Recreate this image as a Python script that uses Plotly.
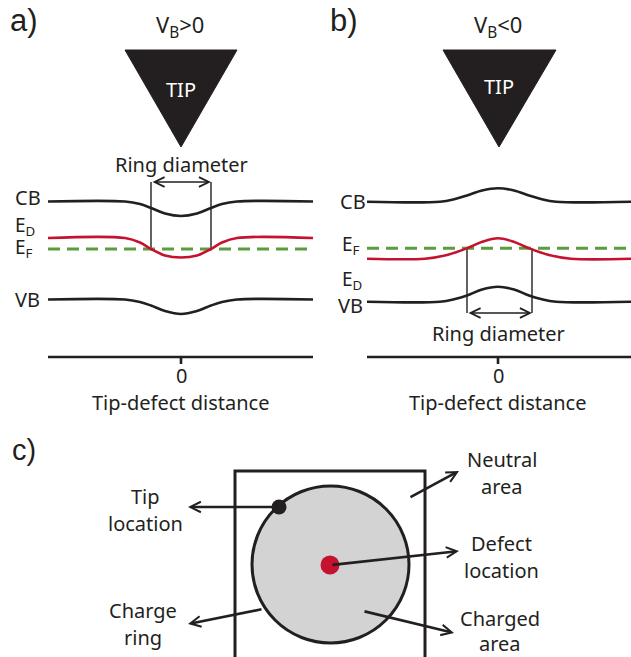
import plotly.graph_objects as go

# ---------------- data (picture pixel coordinates) ----------------
# Panel a  (V_B > 0): band edges dip under the tip
a_x   = [48, 125, 140, 151, 165, 181, 197, 211, 222, 237, 313]
a_cb  = [201.5, 201.5, 204, 208, 213.5, 216, 213.5, 208, 204, 201.5, 201.5]
a_ed  = [238, 238, 242.5, 249, 255.5, 257.5, 255.5, 249, 242.5, 238, 238]
a_vb  = [299.5, 299.5, 302, 305.5, 311, 314, 311, 305.5, 302, 299.5, 299.5]
a_ef  = 249
a_ring = [151, 211]

# Panel b  (V_B < 0): band edges bend up under the tip
b_x   = [367, 440, 455, 467, 482, 498, 514, 529, 541, 556, 631]
b_cb  = [201.7, 201.7, 199, 195.5, 190.5, 188.3, 190.5, 195.5, 199, 201.7, 201.7]
b_xr  = [367, 425, 447, 467, 483, 498, 513, 529, 549, 571, 631]
b_ed  = [258.7, 258.7, 255, 248.3, 241.5, 238.3, 241.5, 248.3, 255, 258.7, 258.7]
b_vb  = [301.7, 301.7, 299, 295.5, 289.5, 286.7, 289.5, 295.5, 299, 301.7, 301.7]
b_ef  = 248.3
b_ring = [467, 532]

BLACK = "#231f20"
RED = "#c4122f"
GREEN = "#5b9c3e"
FONT = "Noto Sans"
LABF = "Liberation Sans"

fig = go.Figure()

def line(x, y, color=BLACK, width=2.6, dash=None, shape="spline"):
    fig.add_trace(go.Scatter(x=x, y=y, mode="lines", hoverinfo="skip",
                             line=dict(color=color, width=width, dash=dash, shape=shape, smoothing=1.0)))

def text(x, y, s, size=20, color=BLACK, xanchor="center", yanchor="middle", family=FONT):
    fig.add_annotation(x=x, y=y, xref="x", yref="y", text=s, showarrow=False,
                       xanchor=xanchor, yanchor=yanchor,
                       font=dict(family=family, size=size, color=color))

def arrow(x, y, ax, ay, width=2.6, size=0.8, both=False):
    fig.add_annotation(x=x, y=y, ax=ax, ay=ay, xref="x", yref="y", axref="x", ayref="y",
                       text="", showarrow=True, arrowhead=5, arrowsize=size, arrowwidth=width,
                       arrowcolor=BLACK, arrowside="end+start" if both else "end",
                       startarrowhead=5, startarrowsize=size, standoff=0, startstandoff=0)

# ---------------- panel a ----------------
line([a_ring[0], a_ring[0]], [182, a_ef], width=1.4, shape="linear")
line([a_ring[1], a_ring[1]], [182, a_ef], width=1.4, shape="linear")
line(a_x, a_cb)
line([a_x[0], a_x[-1]], [a_ef, a_ef], color=GREEN, width=3, dash="12px,7px", shape="linear")
line(a_x, a_ed, color=RED)
line(a_x, a_vb)
line([48, 313], [357, 357], shape="linear")
line([181, 181], [357, 364], shape="linear")
arrow(a_ring[1], 182, a_ring[0], 182, width=1.3, size=1.5, both=True)

fig.add_trace(go.Scatter(x=[125, 237, 181, 125], y=[50, 50, 147, 50], mode="lines", fill="toself",
                         fillcolor=BLACK, line=dict(color=BLACK, width=1), hoverinfo="skip"))
text(181, 89, "TIP", size=20, color="white")
text(180, 26, "V<sub>B</sub>>0", size=22)
text(24, 20, "a)", size=31, family=LABF)
text(181, 164, "Ring diameter", size=20)
text(13, 197, "CB", xanchor="left")
text(13, 226, "E<sub>D</sub>", size=19, xanchor="left")
text(13, 248, "E<sub>F</sub>", size=19, xanchor="left")
text(13, 299, "VB", xanchor="left")
text(181, 375, "0", size=20)
text(181, 402, "Tip-defect distance", size=20)

# ---------------- panel b ----------------
line([b_ring[0], b_ring[0]], [b_ef, 313], width=1.4, shape="linear")
line([b_ring[1], b_ring[1]], [b_ef, 313], width=1.4, shape="linear")
line(b_x, b_cb)
line([b_x[0], b_x[-1]], [b_ef, b_ef], color=GREEN, width=3, dash="12px,7px", shape="linear")
line(b_xr, b_ed, color=RED)
line(b_x, b_vb)
line([367, 631], [357, 357], shape="linear")
line([498, 498], [357, 364], shape="linear")
arrow(b_ring[1], 313, b_ring[0], 313, width=1.3, size=1.5, both=True)

fig.add_trace(go.Scatter(x=[443, 556, 499, 443], y=[50, 50, 147, 50], mode="lines", fill="toself",
                         fillcolor=BLACK, line=dict(color=BLACK, width=1), hoverinfo="skip"))
text(499, 86, "TIP", size=20, color="white")
text(498, 26, "V<sub>B</sub><0", size=22)
text(344, 20, "b)", size=31, family=LABF)
text(498, 333, "Ring diameter", size=20)
text(368, 201, "CB", xanchor="right")
text(340, 245, "E<sub>F</sub>", size=19, xanchor="left")
text(340, 280, "E<sub>D</sub>", size=19, xanchor="left")
text(365, 305, "VB", xanchor="right")
text(498, 375, "0", size=20)
text(498, 402, "Tip-defect distance", size=20)

# ---------------- panel c ----------------
fig.add_shape(type="circle", xref="x", yref="y", x0=252, x1=409, y0=486, y1=643,
              fillcolor="#d3d3d3", line=dict(color=BLACK, width=3), layer="below")
line([235, 235, 425, 425], [662, 471, 471, 662], width=3, shape="linear")
fig.add_trace(go.Scatter(x=[279], y=[507], mode="markers", hoverinfo="skip",
                         marker=dict(color=BLACK, size=15, line=dict(width=0))))
fig.add_trace(go.Scatter(x=[330], y=[565], mode="markers", hoverinfo="skip",
                         marker=dict(color=RED, size=19, line=dict(width=0))))

arrow(188, 507, 279, 507)
arrow(188, 624, 263, 609)
arrow(459, 471, 409, 498)
arrow(459, 551, 331, 565)
arrow(454, 633, 363, 611)

text(24, 450, "c)", size=29, family=LABF)
text(145, 496, "Tip", size=20)
text(145, 523, "location", size=20)
text(143, 610, "Charge", size=20)
text(143, 637, "ring", size=20)
text(502, 459, "Neutral", size=20)
text(502, 486, "area", size=20)
text(501, 543, "Defect", size=20)
text(501, 570, "location", size=20)
text(500, 618, "Charged", size=20)
text(500, 643, "area", size=20)

fig.update_layout(width=631, height=657, margin=dict(l=0, r=0, t=0, b=0),
                  paper_bgcolor="white", plot_bgcolor="white", showlegend=False,
                  xaxis=dict(range=[0, 631], visible=False, fixedrange=True),
                  yaxis=dict(range=[657, 0], visible=False, fixedrange=True))

fig.write_html("out.html", config={"displayModeBar": False, "staticPlot": True},
               post_script="document.body.style.margin='0';document.body.style.overflow='hidden';")
